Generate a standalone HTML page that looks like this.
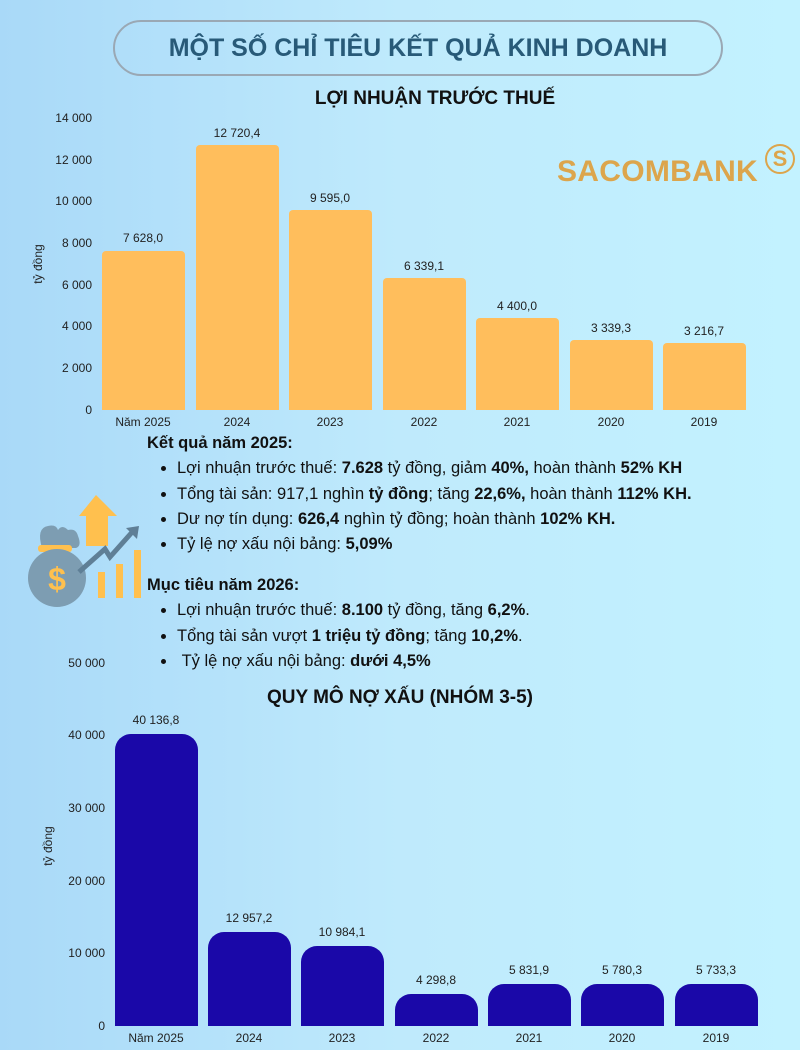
<!DOCTYPE html>
<html><head><meta charset="utf-8"><style>
body{margin:0;width:800px;height:1050px;overflow:hidden;font-family:"Liberation Sans",sans-serif;background:linear-gradient(90deg,#a9d9f8 0%,#bfeafc 50%,#c3f2ff 100%);position:relative}
.t{position:absolute}
.pill{left:113px;top:20px;width:610px;height:56px;border:2px solid #9aa8b4;border-radius:30px;box-sizing:border-box;text-align:center;line-height:52px;font-size:25px;font-weight:bold;color:#285a78}
.txt{font-size:16.5px;color:#111;line-height:25.3px}
.txt b{font-weight:bold}
ul{margin:0;padding-left:30px}
</style></head><body>
<div class="t pill">MỘT SỐ CHỈ TIÊU KẾT QUẢ KINH DOANH</div>
<div class="t" style="left:0;width:870px;top:88px;text-align:center;font-size:19px;font-weight:bold;color:#111">LỢI NHUẬN TRƯỚC THUẾ</div>
<div class="t" style="left:557px;top:155px;font-size:30px;font-weight:bold;color:#dca54c;letter-spacing:0.3px">SACOMBANK</div>
<div class="t" style="left:765px;top:144px;width:26px;height:26px;border:2px solid #dca54c;border-radius:50%;text-align:center;line-height:26px;font-size:22px;font-weight:bold;color:#dca54c">S</div>

<svg class="t" style="left:0;top:0" width="800" height="1050" font-family="Liberation Sans, sans-serif">
<g font-size="12" fill="#222" text-anchor="end">
<text x="92" y="414">0</text><text x="92" y="372">2 000</text><text x="92" y="330">4 000</text><text x="92" y="289">6 000</text><text x="92" y="247">8 000</text><text x="92" y="205">10 000</text><text x="92" y="164">12 000</text><text x="92" y="122">14 000</text>
</g>
<text transform="translate(42,264) rotate(-90)" font-size="12" text-anchor="middle" fill="#222">tỷ đồng</text>
<g fill="#ffbe5c">
<path d="M102,410V255a4,4 0 0 1 4,-4H181a4,4 0 0 1 4,4V410Z"/>
<path d="M196,410V149a4,4 0 0 1 4,-4H275a4,4 0 0 1 4,4V410Z"/>
<path d="M289,410V214a4,4 0 0 1 4,-4H368a4,4 0 0 1 4,4V410Z"/>
<path d="M383,410V282a4,4 0 0 1 4,-4H462a4,4 0 0 1 4,4V410Z"/>
<path d="M476,410V322a4,4 0 0 1 4,-4H555a4,4 0 0 1 4,4V410Z"/>
<path d="M570,410V344a4,4 0 0 1 4,-4H649a4,4 0 0 1 4,4V410Z"/>
<path d="M663,410V347a4,4 0 0 1 4,-4H742a4,4 0 0 1 4,4V410Z"/>
</g>
<g font-size="12" fill="#222" text-anchor="middle">
<text x="143" y="242">7 628,0</text><text x="237" y="137">12 720,4</text><text x="330" y="202">9 595,0</text><text x="424" y="270">6 339,1</text><text x="517" y="310">4 400,0</text><text x="611" y="332">3 339,3</text><text x="704" y="335">3 216,7</text>
<text x="143" y="426">Năm 2025</text><text x="237" y="426">2024</text><text x="330" y="426">2023</text><text x="424" y="426">2022</text><text x="517" y="426">2021</text><text x="611" y="426">2020</text><text x="704" y="426">2019</text>
</g>

<g>
<path d="M42,548 q-6,-20 6,-22 q8,-2 10,4 q4,-6 10,0 q8,-2 10,6 q4,10 -2,12 Z" fill="#7d9db2"/>
<rect x="38" y="545" width="34" height="7" rx="3" fill="#ffc04e"/>
<circle cx="57" cy="578" r="29" fill="#7d9db2"/>
<text x="57" y="590" font-size="32" font-weight="bold" fill="#ffc04e" text-anchor="middle">$</text>
<path d="M96,495 L117,516 H108 V546 H86 V516 H79 Z" fill="#ffc04e"/>
<rect x="98" y="572" width="7" height="26" fill="#ffc04e"/>
<rect x="116" y="564" width="7" height="34" fill="#ffc04e"/>
<rect x="134" y="550" width="7" height="48" fill="#ffc04e"/>
<polyline points="79,572 105,549 110,557 134,530" fill="none" stroke="#5f7f96" stroke-width="5"/>
<path d="M139,526 L126,528 L137,539 Z" fill="#5f7f96"/>
</g>

<g font-size="12" fill="#222" text-anchor="end">
<text x="105" y="1030">0</text><text x="105" y="957">10 000</text><text x="105" y="885">20 000</text><text x="105" y="812">30 000</text><text x="105" y="739">40 000</text><text x="105" y="667">50 000</text>
</g>
<text transform="translate(52,846) rotate(-90)" font-size="12" text-anchor="middle" fill="#222">tỷ đồng</text>
<text x="400" y="703" font-size="19" font-weight="bold" text-anchor="middle" fill="#111">QUY MÔ NỢ XẤU (NHÓM 3-5)</text>
<g fill="#1a08a8">
<path d="M115,1026V750a16,16 0 0 1 16,-16H182a16,16 0 0 1 16,16V1026Z"/>
<path d="M208,1026V948a16,16 0 0 1 16,-16H275a16,16 0 0 1 16,16V1026Z"/>
<path d="M301,1026V962a16,16 0 0 1 16,-16H368a16,16 0 0 1 16,16V1026Z"/>
<path d="M395,1026V1010a16,16 0 0 1 16,-16H462a16,16 0 0 1 16,16V1026Z"/>
<path d="M488,1026V1000a16,16 0 0 1 16,-16H555a16,16 0 0 1 16,16V1026Z"/>
<path d="M581,1026V1000a16,16 0 0 1 16,-16H648a16,16 0 0 1 16,16V1026Z"/>
<path d="M675,1026V1000a16,16 0 0 1 16,-16H742a16,16 0 0 1 16,16V1026Z"/>
</g>
<g font-size="12" fill="#222" text-anchor="middle">
<text x="156" y="724">40 136,8</text><text x="249" y="922">12 957,2</text><text x="342" y="936">10 984,1</text><text x="436" y="984">4 298,8</text><text x="529" y="974">5 831,9</text><text x="622" y="974">5 780,3</text><text x="716" y="974">5 733,3</text>
<text x="156" y="1042">Năm 2025</text><text x="249" y="1042">2024</text><text x="342" y="1042">2023</text><text x="436" y="1042">2022</text><text x="529" y="1042">2021</text><text x="622" y="1042">2020</text><text x="716" y="1042">2019</text>
</g>
</svg>

<div class="t txt" style="left:147px;top:431px">
<b>Kết quả năm 2025:</b>
<ul>
<li>Lợi nhuận trước thuế: <b>7.628</b> tỷ đồng, giảm <b>40%,</b> hoàn thành <b>52% KH</b></li>
<li>Tổng tài sản: 917,1 nghìn <b>tỷ đồng</b>; tăng <b>22,6%,</b> hoàn thành <b>112% KH.</b></li>
<li>Dư nợ tín dụng: <b>626,4</b> nghìn tỷ đồng; hoàn thành <b>102% KH.</b></li>
<li>Tỷ lệ nợ xấu nội bảng: <b>5,09%</b></li>
</ul>
</div>
<div class="t txt" style="left:147px;top:573px">
<b>Mục tiêu năm 2026:</b>
<ul>
<li>Lợi nhuận trước thuế: <b>8.100</b> tỷ đồng, tăng <b>6,2%</b>.</li>
<li>Tổng tài sản vượt <b>1 triệu tỷ đồng</b>; tăng <b>10,2%</b>.</li>
<li>&nbsp;Tỷ lệ nợ xấu nội bảng: <b>dưới 4,5%</b></li>
</ul>
</div>
</body></html>
